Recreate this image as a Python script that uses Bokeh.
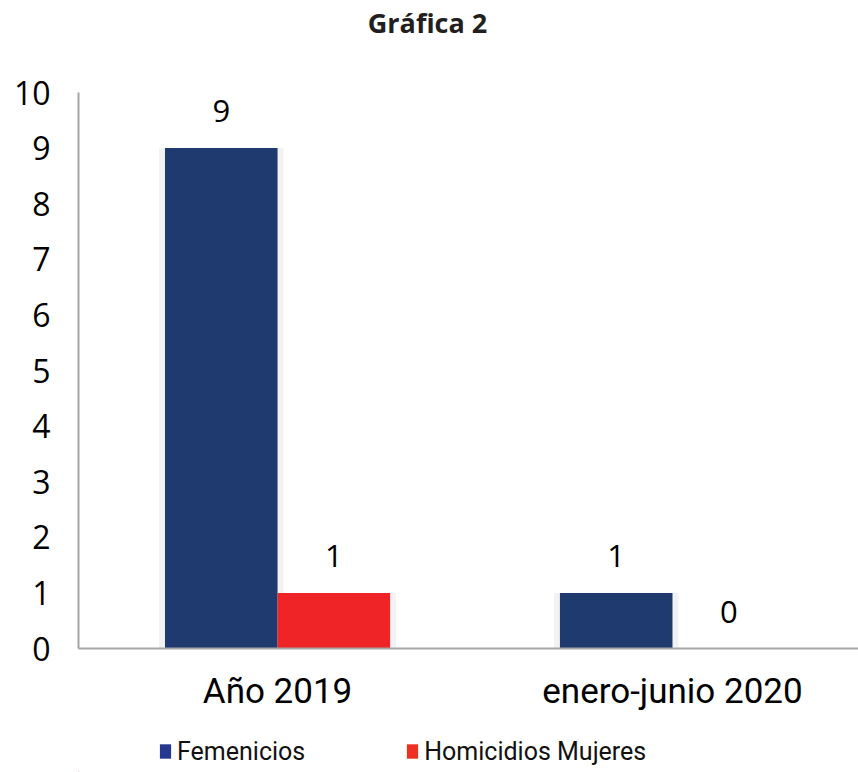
from bokeh.plotting import figure
from bokeh.layouts import column
from bokeh.models import (ColumnDataSource, Range1d, FixedTicker, Legend, LegendItem)
from bokeh.transform import dodge
from bokeh.core.properties import value
from bokeh.embed import file_html
from bokeh.resources import INLINE

title_text = "Gráfica 2"
categories = ["Año 2019", "enero-junio 2020"]
series_names = ["Femenicios", "Homicidios Mujeres"]
femenicios = [9, 1]
homicidios = [1, 0]
y_ticks = [0, 1, 2, 3, 4, 5, 6, 7, 8, 9, 10]

BLUE = "#1E3A6E"
RED = "#EE2427"
LEG_BLUE = "#26398F"
LEG_RED = "#EE3124"
AXIS = "#A6A6A6"
FONT = "Open Sans"
XFONT = "Roboto"


def blank(fig):
    fig.axis.visible = False
    fig.xgrid.visible = False
    fig.ygrid.visible = False
    fig.outline_line_color = None


# ---- title strip (x in page pixels) ----
t = figure(frame_width=780, frame_height=72, output_backend="svg", toolbar_location=None,
           x_range=Range1d(78, 858), y_range=Range1d(0, 72),
           min_border_left=78, min_border_right=0, min_border_top=0, min_border_bottom=0)
blank(t)
t.text(x=[427], y=[50], text=[title_text], text_align="center", text_baseline="middle",
       text_font=value(FONT), text_font_size="27px", text_font_style="bold",
       text_color="#231F20")

# ---- main chart ----
xs = list(range(len(categories)))
src = ColumnDataSource(dict(
    x=xs, fem=femenicios, hom=homicidios,
    fem_lbl=[str(v) for v in femenicios], hom_lbl=[str(v) for v in homicidios],
))

p = figure(frame_width=780, frame_height=556, output_backend="svg", toolbar_location=None,
           x_range=Range1d(-0.504, 1.471), y_range=Range1d(0, 10),
           min_border_left=78, min_border_right=0, min_border_top=20, min_border_bottom=74)
blank(p)
p.xaxis.visible = True
p.yaxis.visible = True

W = 0.285
# soft shadows
p.vbar(x=dodge("x", -W / 2, range=p.x_range), top="fem", width=W + 0.03, source=src,
       fill_color="#000000", fill_alpha=0.05, line_color=None)
p.vbar(x=dodge("x", W / 2, range=p.x_range), top="hom", width=W + 0.03, source=src,
       fill_color="#000000", fill_alpha=0.05, line_color=None)
p.vbar(x=dodge("x", -W / 2, range=p.x_range), top="fem", width=W, source=src,
       fill_color=BLUE, line_color=None)
p.vbar(x=dodge("x", W / 2, range=p.x_range), top="hom", width=W, source=src,
       fill_color=RED, line_color=None)

p.text(x=dodge("x", -W / 2, range=p.x_range), y="fem", text="fem_lbl", source=src,
       text_align="center", text_baseline="middle", y_offset=-37,
       text_font=value(FONT), text_font_size="31px", text_color="#000000")
p.text(x=dodge("x", W / 2, range=p.x_range), y="hom", text="hom_lbl", source=src,
       text_align="center", text_baseline="middle", y_offset=-37,
       text_font=value(FONT), text_font_size="31px", text_color="#000000")

p.xaxis.ticker = FixedTicker(ticks=xs)
p.xaxis.major_label_overrides = {i: c for i, c in zip(xs, categories)}
p.yaxis.ticker = FixedTicker(ticks=y_ticks)
for ax in (p.xaxis[0], p.yaxis[0]):
    ax.axis_line_color = AXIS
    ax.axis_line_width = 2
    ax.major_tick_line_color = None
    ax.minor_tick_line_color = None
    ax.major_label_text_color = "#000000"
p.xaxis.major_label_text_font = XFONT
p.xaxis.major_label_text_font_size = "35px"
p.yaxis.major_label_text_font = FONT
p.yaxis.major_label_text_font_size = "32px"
p.xaxis.major_label_standoff = 16
p.yaxis.major_label_standoff = 22

# ---- legend strip ----
lg = figure(frame_width=780, frame_height=50, output_backend="svg", toolbar_location=None,
            x_range=Range1d(78, 858), y_range=Range1d(0, 50),
            min_border_left=78, min_border_right=0, min_border_top=0, min_border_bottom=0)
blank(lg)
# proxies placed outside the visible range (only their legend swatches show)
lsrc = ColumnDataSource(dict(x=[-1000], top=[1]))
r1 = lg.vbar(x="x", top="top", width=1, source=lsrc, fill_color=LEG_BLUE, line_color=None)
r2 = lg.vbar(x="x", top="top", width=1, source=lsrc, fill_color=LEG_RED, line_color=None)
legend = Legend(items=[LegendItem(label=series_names[0], renderers=[r1]),
                       LegendItem(label=series_names[1], renderers=[r2])],
                orientation="horizontal", location=(80, 6),
                glyph_width=14, glyph_height=18, label_standoff=5, spacing=100,
                padding=0, margin=0, border_line_alpha=0, background_fill_alpha=0,
                label_text_font=XFONT, label_text_font_size="25px",
                label_text_color="#111111", label_height=30)
lg.add_layout(legend, "center")

layout = column(t, p, lg, spacing=0)
open("out.html", "w").write(file_html(layout, INLINE))
